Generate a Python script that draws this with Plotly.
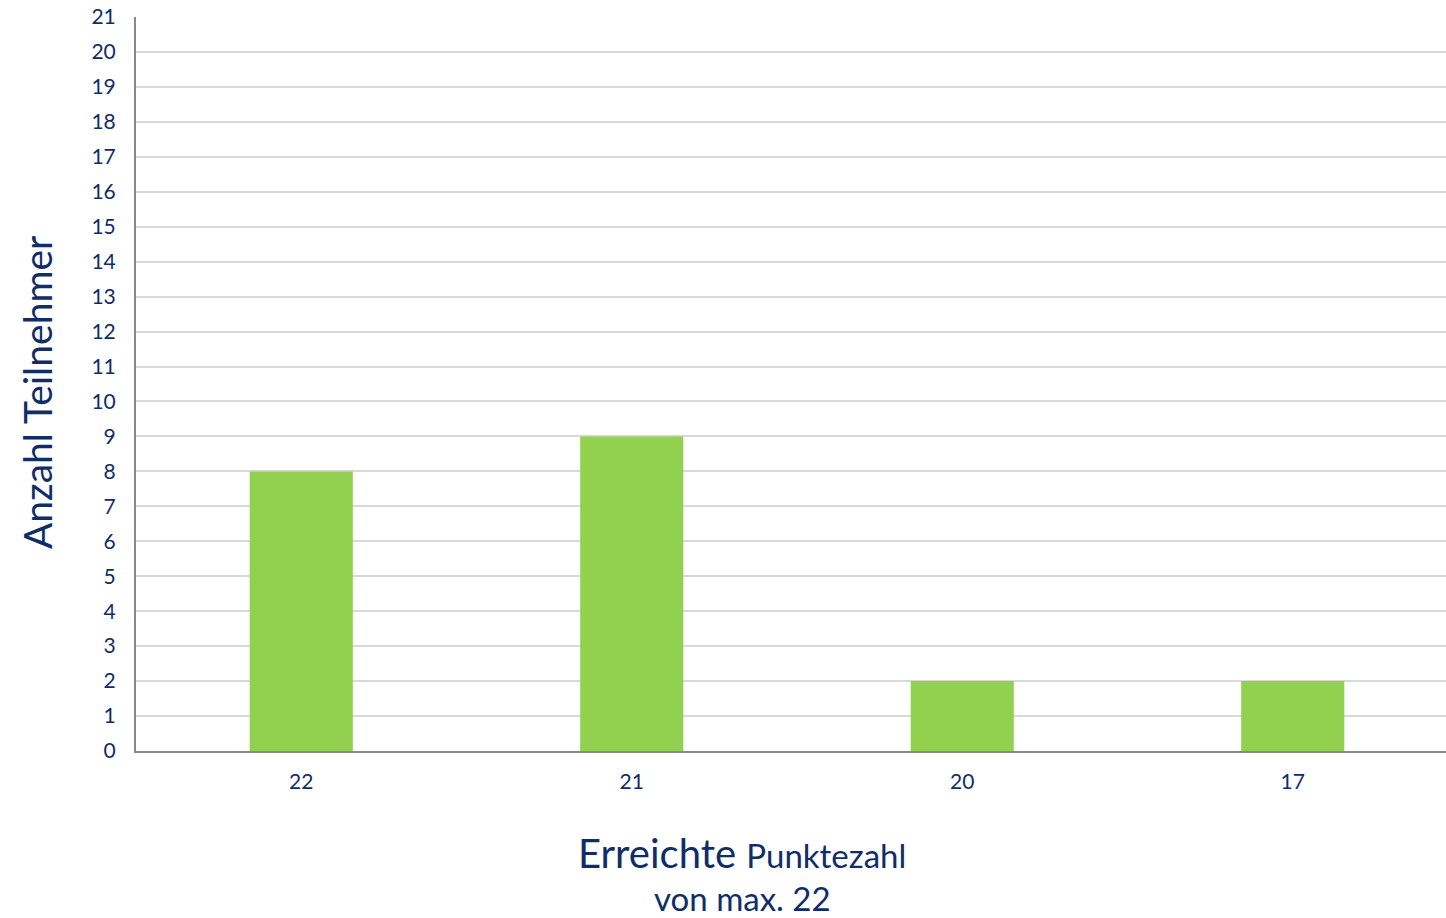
import plotly.graph_objects as go

categories = ["22", "21", "20", "17"]
values = [8, 9, 2, 2]
y_ticks = list(range(0, 22))

navy = "#0F2D69"
font_family = "Lato, 'Open Sans', sans-serif"

FIG_W = 1458
L = 136

fig = go.Figure()
fig.add_trace(go.Bar(
    x=categories, y=values,
    marker=dict(color="#92D050", line=dict(width=0)),
    width=0.312,
    hoverinfo="x+y",
))

fig.update_layout(
    width=FIG_W, height=918,
    margin=dict(l=L, r=0, t=17, b=167),
    paper_bgcolor="white", plot_bgcolor="white",
    showlegend=False,
    font=dict(family=font_family, color=navy),
)
fig.update_xaxes(
    type="category",
    showline=True, linecolor="#888888", linewidth=2,
    showgrid=False, ticks="",
    tickfont=dict(size=21, color=navy, family=font_family),
    ticklabelstandoff=11,
)
fig.update_yaxes(
    range=[0, 21], tickvals=y_ticks,
    showline=True, linecolor="#888888", linewidth=2,
    showgrid=True, gridcolor="#D9D9D9", gridwidth=2,
    zeroline=False, ticks="",
    tickfont=dict(size=21, color=navy, family=font_family),
    ticklabelstandoff=14,
)

def py(pix):
    return (751 - pix) / 734

def px(pix):
    return (pix - L) / (FIG_W - L)

fig.add_annotation(
    text="Anzahl Teilnehmer", textangle=-90,
    xref="paper", yref="paper", x=px(37), y=py(393),
    xanchor="center", yanchor="middle", showarrow=False,
    font=dict(size=39, color=navy, family=font_family),
)
fig.add_annotation(
    text="Erreichte <span style='font-size:33px'>Punktezahl</span>",
    xref="paper", yref="paper", x=px(742), y=py(853),
    xanchor="center", yanchor="middle", showarrow=False,
    font=dict(size=40, color=navy, family=font_family),
)
fig.add_annotation(
    text="von max. 22",
    xref="paper", yref="paper", x=px(742), y=py(898),
    xanchor="center", yanchor="middle", showarrow=False,
    font=dict(size=33, color=navy, family=font_family),
)

fig.write_html(
    "out.html",
    config={"displayModeBar": False},
    post_script="document.body.style.margin='0';document.body.style.overflow='hidden';",
)
